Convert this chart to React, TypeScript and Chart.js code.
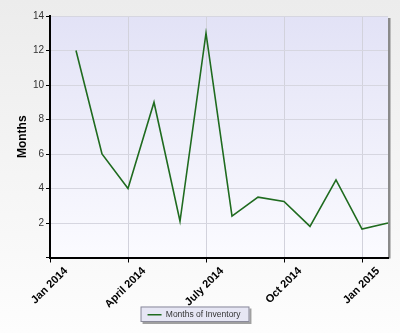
import React, { useEffect, useRef } from "react";
import { Chart, registerables } from "chart.js";

Chart.register(...registerables);

const months = [
  "Jan 2014", "Feb 2014", "Mar 2014", "Apr 2014", "May 2014", "Jun 2014", "Jul 2014",
  "Aug 2014", "Sep 2014", "Oct 2014", "Nov 2014", "Dec 2014", "Jan 2015", "Feb 2015",
];
const inventory: (number | null)[] = [null, 12, 6, 4, 9, 2.1, 13, 2.4, 3.5, 3.25, 1.8, 4.5, 1.65, 2.0];
const tickIndexes = [0, 3, 6, 9, 12];
const tickTexts = ["Jan 2014", "April 2014", "July 2014", "Oct 2014", "Jan 2015"];
const seriesName = "Months of Inventory";
const yTitle = "Months";

const bgPlugin = {
  id: "bgPlugin",
  beforeDraw(chart: any) {
    const { ctx, width, height, chartArea } = chart;
    ctx.save();
    const g = ctx.createLinearGradient(0, 0, 0, height);
    g.addColorStop(0, "#ececec");
    g.addColorStop(1, "#fdfdfd");
    ctx.fillStyle = g;
    ctx.fillRect(0, 0, width, height);
    const pg = ctx.createLinearGradient(0, chartArea.top, 0, chartArea.bottom);
    pg.addColorStop(0, "#e2e2f6");
    pg.addColorStop(1, "#fbfbff");
    ctx.fillStyle = pg;
    ctx.fillRect(chartArea.left, chartArea.top, chartArea.right - chartArea.left, chartArea.bottom - chartArea.top);
    ctx.fillStyle = "#8a8a8a";
    ctx.fillRect(chartArea.right, chartArea.top + 2, 2.5, chartArea.bottom - chartArea.top - 1);
    const lg = chart.legend;
    if (lg && lg.legendHitBoxes && lg.legendHitBoxes.length) {
      const hb = lg.legendHitBoxes[0];
      const x = hb.left - 7;
      const y = hb.top - 4;
      const w = hb.width + 16;
      const h = hb.height + 7;
      ctx.fillStyle = "#a0a0a0";
      ctx.fillRect(x + 2, y + 2, w, h);
      ctx.fillStyle = "#e6e6f4";
      ctx.fillRect(x, y, w, h);
      ctx.strokeStyle = "#8a8a9a";
      ctx.lineWidth = 1;
      ctx.strokeRect(x + 0.5, y + 0.5, w - 1, h - 1);
    }
    ctx.restore();
  },
};

export default function App() {
  const ref = useRef<HTMLCanvasElement>(null);
  useEffect(() => {
    if (!ref.current) return;
    const chart = new Chart(ref.current, {
      type: "line",
      data: {
        labels: months,
        datasets: [
          {
            label: seriesName,
            data: inventory,
            borderColor: "#1f6b1f",
            backgroundColor: "#1f6b1f",
            borderWidth: 1.6,
            pointRadius: 0,
            tension: 0,
            spanGaps: false,
          },
        ],
      },
      options: {
        responsive: false,
        animation: false,
        layout: { padding: { left: 0, top: 16, right: 12, bottom: 4 } },
        plugins: {
          tooltip: { enabled: false },
          legend: {
            position: "bottom",
            labels: {
              usePointStyle: true,
              pointStyle: "line",
              pointStyleWidth: 14,
              color: "#333",
              font: { family: "Arial, 'Liberation Sans'", size: 8.5 },
              padding: 3,
            },
          },
        },
        scales: {
          x: {
            type: "category",
            offset: false,
            border: { display: true, color: "#000", width: 2 },
            grid: {
              color: "#d2d2dc",
              tickColor: "#000",
              tickLength: 5,
              drawOnChartArea: true,
            },
            ticks: {
              autoSkip: false,
              minRotation: 45,
              maxRotation: 45,
              labelOffset: 16,
              padding: 2,
              color: "#000",
              font: { family: "Arial, 'Liberation Sans'", size: 11, weight: "bold" },
              callback: (_v: any, i: number) => {
                const k = tickIndexes.indexOf(i);
                return k >= 0 ? tickTexts[k] : null;
              },
            },
            afterFit: (s: any) => {
              s.height = 50;
            },
          },
          y: {
            min: 0,
            max: 14,
            border: { display: true, color: "#000", width: 2 },
            grid: { color: "#d6d6e0", tickColor: "#000", tickLength: 4 },
            ticks: {
              stepSize: 2,
              padding: 2,
              color: "#333",
              font: { family: "Arial, 'Liberation Sans'", size: 10 },
              callback: (v: any) => (v === 0 ? "" : String(v)),
            },
            title: {
              display: true,
              text: yTitle,
              color: "#000",
              font: { family: "Arial, 'Liberation Sans'", size: 12, weight: "bold" },
              padding: { top: 15, bottom: 4 },
            },
            afterFit: (s: any) => {
              s.width = 50;
            },
          },
        },
      },
      plugins: [bgPlugin],
    });
    return () => chart.destroy();
  }, []);
  return (
    <div style={{ position: "fixed", left: 0, top: 0, width: 400, height: 333 }}>
      <canvas ref={ref} width={400} height={333} />
    </div>
  );
}
